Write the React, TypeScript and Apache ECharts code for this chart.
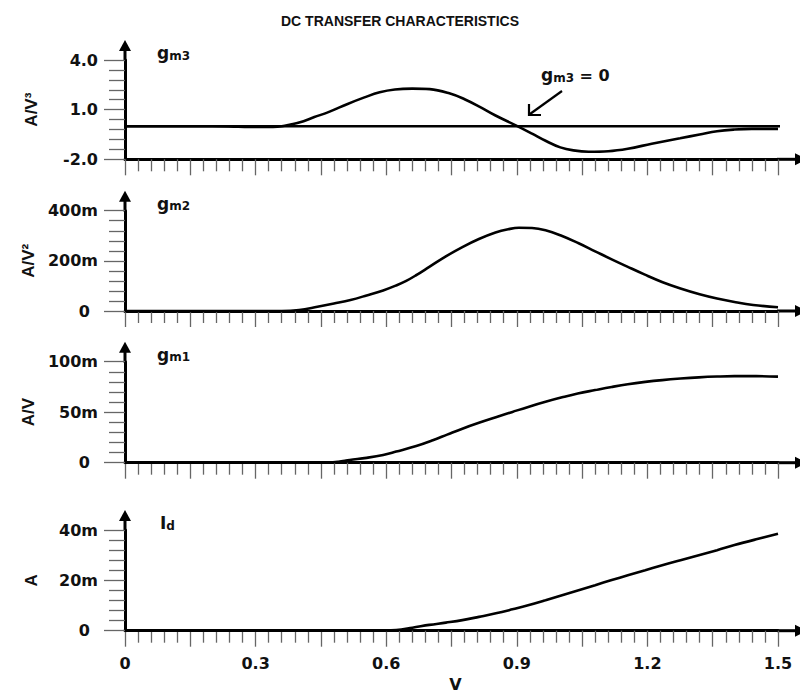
import React, { useEffect, useRef } from 'react';
import * as echarts from 'echarts';

// ---- tick labels ----
const xTickLabels = ['0', '0.3', '0.6', '0.9', '1.2', '1.5'];
const gm3TickVals = [-2, 1, 4];
const gm3TickLabels = ['-2.0', '1.0', '4.0'];
const gm2TickVals = [0, 0.2, 0.4];
const gm2TickLabels = ['0', '200m', '400m'];
const gm1TickVals = [0, 0.05, 0.1];
const gm1TickLabels = ['0', '50m', '100m'];
const idTickVals = [0, 0.02, 0.04];
const idTickLabels = ['0', '20m', '40m'];

// ---- series values [V, value] ----
const gm3Data = [
  [0, 0], [0.1, 0], [0.2, 0], [0.26, -0.03], [0.3, -0.05], [0.34, -0.04], [0.36, 0], [0.38, 0.1],
  [0.4, 0.22], [0.435, 0.55], [0.47, 0.88], [0.51, 1.33], [0.55, 1.74], [0.585, 2.05], [0.62, 2.22],
  [0.66, 2.27], [0.7, 2.24], [0.745, 1.99], [0.78, 1.63], [0.815, 1.17], [0.85, 0.66], [0.9, 0.02],
  [0.935, -0.45], [0.966, -0.88], [1.0, -1.28], [1.03, -1.46], [1.065, -1.54], [1.11, -1.51],
  [1.155, -1.36], [1.21, -1.06], [1.275, -0.73], [1.32, -0.5], [1.36, -0.3], [1.4, -0.2],
  [1.44, -0.16], [1.5, -0.16],
];
const gm3ZeroLine = [[0, 0], [1.52, 0]];
const gm2Data = [
  [0, 0], [0.3, 0], [0.36, 0], [0.4, 0.004], [0.442, 0.017], [0.48, 0.03], [0.518, 0.044],
  [0.555, 0.062], [0.593, 0.082], [0.623, 0.102], [0.646, 0.12], [0.67, 0.144], [0.699, 0.176],
  [0.737, 0.218], [0.775, 0.255], [0.813, 0.287], [0.851, 0.313], [0.88, 0.326], [0.905, 0.332],
  [0.935, 0.331], [0.966, 0.322], [1.0, 0.302], [1.042, 0.27], [1.08, 0.238], [1.118, 0.206],
  [1.155, 0.176], [1.193, 0.146], [1.235, 0.115], [1.276, 0.09], [1.32, 0.067], [1.36, 0.05],
  [1.4, 0.036], [1.443, 0.024], [1.5, 0.015],
];
const gm1Data = [
  [0, 0], [0.3, 0], [0.45, 0], [0.49, 0.001], [0.516, 0.0027], [0.555, 0.0048], [0.593, 0.0076],
  [0.623, 0.011], [0.669, 0.0165], [0.707, 0.0222], [0.74, 0.0278], [0.775, 0.0337], [0.813, 0.0395],
  [0.852, 0.045], [0.89, 0.0503], [0.928, 0.0555], [0.966, 0.0603], [1.004, 0.0647], [1.04, 0.0685],
  [1.08, 0.0719], [1.118, 0.075], [1.155, 0.0777], [1.195, 0.08], [1.234, 0.0818], [1.276, 0.0833],
  [1.318, 0.0845], [1.36, 0.0853], [1.4, 0.0857], [1.45, 0.0857], [1.5, 0.0852],
];
const idData = [
  [0, 0], [0.3, 0], [0.5, 0], [0.571, 0], [0.623, 0.0003], [0.66, 0.0012], [0.699, 0.0023],
  [0.737, 0.0032], [0.775, 0.0042], [0.813, 0.0055], [0.852, 0.0069], [0.89, 0.0085],
  [0.928, 0.0102], [0.966, 0.0121], [1.004, 0.0141], [1.042, 0.0161], [1.08, 0.0181],
  [1.118, 0.0201], [1.155, 0.022], [1.195, 0.024], [1.234, 0.026], [1.276, 0.028], [1.318, 0.03],
  [1.36, 0.032], [1.4, 0.034], [1.45, 0.0363], [1.5, 0.0385],
];

const LAB_FONT = 'DejaVu Sans';
const TXT_FONT = 'Liberation Sans';

export default function App() {
  const ref = useRef<HTMLDivElement>(null);

  useEffect(() => {
    if (!ref.current) return;
    const chart = echarts.init(ref.current, null, { renderer: 'svg' });

    const X0 = 125; // grid left (x = 0)
    const XR = 778; // x = 1.5
    const panels = [
      { top: 60, bottom: 159.3, min: -2, max: 4, vals: gm3TickVals, labels: gm3TickLabels, name: 'A/V³', data: gm3Data, tag: ['g', 'm3'] },
      { top: 210.7, bottom: 311, min: 0, max: 0.4, vals: gm2TickVals, labels: gm2TickLabels, name: 'A/V²', data: gm2Data, tag: ['g', 'm2'] },
      { top: 361.7, bottom: 462.7, min: 0, max: 0.1, vals: gm1TickVals, labels: gm1TickLabels, name: 'A/V', data: gm1Data, tag: ['g', 'm1'] },
      { top: 530, bottom: 630.7, min: 0, max: 0.04, vals: idTickVals, labels: idTickLabels, name: 'A', data: idData, tag: ['I', 'd'] },
    ];

    const grids: any[] = [];
    const xAxes: any[] = [];
    const yAxes: any[] = [];
    const series: any[] = [];
    const graphics: any[] = [];
    const tickColor = '#666';

    panels.forEach((p, i) => {
      const last = i === panels.length - 1;
      grids.push({ left: X0, right: 800 - XR, top: p.top, height: p.bottom - p.top, containLabel: false, outerBoundsMode: 'none' });
      xAxes.push({
        type: 'value', gridIndex: i, min: 0, max: 1.5, interval: 0.15,
        axisLine: { show: true, onZero: false, lineStyle: { color: '#000', width: 3 } },
        axisTick: { show: true, length: 16, lineStyle: { color: tickColor, width: 1.3 } },
        minorTick: { show: true, splitNumber: 5, length: 12, lineStyle: { color: tickColor, width: 1.3 } },
        splitLine: { show: false }, minorSplitLine: { show: false },
        axisLabel: {
          show: last, margin: 25, color: '#111', fontFamily: LAB_FONT, fontWeight: 'bold', fontSize: 16,
          formatter: (v: number) => {
            const k = Math.round(v / 0.15);
            return k % 2 === 0 ? xTickLabels[k / 2] : '';
          },
        },
        name: last ? 'V' : '', nameLocation: 'middle', nameGap: 46,
        nameTextStyle: { color: '#111', fontFamily: LAB_FONT, fontWeight: 'bold', fontSize: 16, padding: [0, 0, 0, 8] },
      });
      const step = (p.vals[1] - p.vals[0]) / 5;
      const minorVals: number[] = [];
      for (let k = 1; k < 10; k++) if (k % 5 !== 0) minorVals.push(p.min + step * k);
      yAxes.push({
        type: 'value', gridIndex: i, min: p.min, max: p.max, position: 'left',
        axisLine: { show: true, onZero: false, lineStyle: { color: '#000', width: 3 } },
        axisTick: { show: true, length: 21, customValues: p.vals, lineStyle: { color: tickColor, width: 1.3 } },
        splitLine: { show: false },
        axisLabel: {
          show: true, margin: 27, customValues: p.vals, color: '#111', fontFamily: LAB_FONT, fontWeight: 'bold', fontSize: 16,
          formatter: (v: number) => {
            const idx = p.vals.findIndex((t) => Math.abs(t - v) < 1e-9);
            const s = idx >= 0 ? p.labels[idx] : '';
            return s === '0' ? '{z|0}' : s;
          },
          rich: { z: { padding: [0, 8, 0, 0], color: '#111', fontFamily: LAB_FONT, fontWeight: 'bold', fontSize: 16 } },
        },
        name: p.name, nameLocation: 'middle', nameRotate: 90, nameGap: 85,
        nameTextStyle: { color: '#111', fontFamily: TXT_FONT, fontWeight: 'bold', fontSize: 17 },
      });
      yAxes.push({
        type: 'value', gridIndex: i, min: p.min, max: p.max, position: 'left', offset: 0,
        axisLine: { show: false },
        axisTick: { show: true, length: 16, customValues: minorVals, lineStyle: { color: tickColor, width: 1.3 } },
        axisLabel: { show: false }, splitLine: { show: false },
      });
      series.push({
        type: 'line', xAxisIndex: i, yAxisIndex: i * 2, data: p.data, showSymbol: false, smooth: 0.4,
        lineStyle: { color: '#000', width: 2.6 }, itemStyle: { color: '#000' }, clip: false, z: 5,
      });

      // axis arrow extensions
      graphics.push({ type: 'line', shape: { x1: X0, y1: p.top + 1, x2: X0, y2: p.top - 11 }, style: { stroke: '#000', lineWidth: 3 } });
      graphics.push({ type: 'polygon', shape: { points: [[X0, p.top - 20], [X0 - 6, p.top - 9], [X0 + 6, p.top - 9]] }, style: { fill: '#000' } });
      graphics.push({ type: 'line', shape: { x1: XR - 1, y1: p.bottom, x2: 797, y2: p.bottom }, style: { stroke: '#000', lineWidth: 3 } });
      graphics.push({ type: 'polygon', shape: { points: [[807, p.bottom], [795, p.bottom - 6], [795, p.bottom + 6]] }, style: { fill: '#000' } });
      // curve tag
      graphics.push({
        type: 'text', x: i === 3 ? 160 : 157, y: p.top - 7,
        style: {
          text: `{a|${p.tag[0]}}{b|${p.tag[1]}}`, align: 'left', verticalAlign: 'middle',
          rich: {
            a: { fontFamily: LAB_FONT, fontWeight: 'bold', fontSize: 17, fill: '#111' },
            b: { fontFamily: LAB_FONT, fontWeight: 'bold', fontSize: 12, fill: '#111', verticalAlign: 'bottom' },
          },
        },
      });
    });

    series.push({
      type: 'line', xAxisIndex: 0, yAxisIndex: 0, data: gm3ZeroLine, showSymbol: false,
      lineStyle: { color: '#000', width: 2.4 }, clip: false, z: 4,
    });

    // annotation gm3 = 0
    graphics.push({
      type: 'text', x: 541, y: 75,
      style: {
        text: '{a|g}{b|m3}{c| = 0}', align: 'left', verticalAlign: 'middle',
        rich: {
          a: { fontFamily: LAB_FONT, fontWeight: 'bold', fontSize: 17, fill: '#111' },
          b: { fontFamily: LAB_FONT, fontWeight: 'bold', fontSize: 12, fill: '#111', verticalAlign: 'bottom' },
          c: { fontFamily: LAB_FONT, fontWeight: 'bold', fontSize: 16, fill: '#111' },
        },
      },
    });
    graphics.push({ type: 'line', shape: { x1: 562, y1: 91, x2: 530, y2: 114 }, style: { stroke: '#000', lineWidth: 2.2 } });
    graphics.push({ type: 'polyline', shape: { points: [[529, 104], [529, 115], [541, 115]] }, style: { stroke: '#000', lineWidth: 2.2, fill: 'none' } });

    chart.setOption({
      animation: false,
      backgroundColor: '#fff',
      title: {
        text: 'DC TRANSFER CHARACTERISTICS', left: 'center', top: 9,
        textStyle: { fontFamily: TXT_FONT, fontWeight: 'bold', fontSize: 14, color: '#111' },
      },
      grid: grids,
      xAxis: xAxes,
      yAxis: yAxes,
      series,
      graphic: graphics,
    });

    return () => chart.dispose();
  }, []);

  return <div ref={ref} style={{ position: 'absolute', left: 0, top: 0, width: 800, height: 697 }} />;
}
